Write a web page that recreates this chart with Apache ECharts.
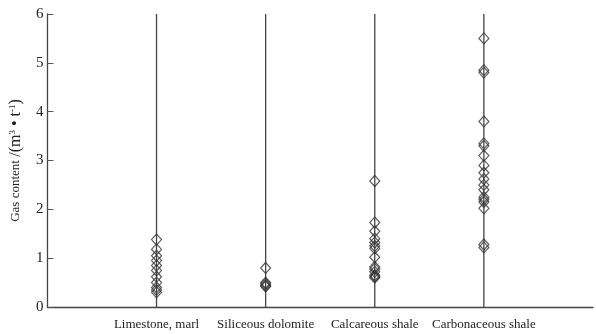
<!DOCTYPE html>
<html><head><meta charset="utf-8">
<script src="https://cdn.jsdelivr.net/npm/echarts@6/dist/echarts.min.js"></script>
<style>html,body{margin:0;padding:0;background:#fff}#c{width:596px;height:334px}</style>
</head><body><div id="c"></div>
<script>
const categories = ['Limestone, marl', 'Siliceous dolomite', 'Calcareous shale', 'Carbonaceous shale'];
const limestone = [1.38, 1.18, 1.05, 0.95, 0.85, 0.75, 0.62, 0.5, 0.4, 0.35, 0.3];
const dolomite = [0.8, 0.5, 0.47, 0.44, 0.42];
const calcShale = [2.58, 1.73, 1.55, 1.4, 1.32, 1.25, 1.2, 1.02, 0.82, 0.78, 0.72, 0.65, 0.62, 0.6];
const carbShale = [5.5, 4.85, 4.8, 3.8, 3.35, 3.3, 3.1, 2.9, 2.75, 2.62, 2.5, 2.4, 2.25, 2.2, 2.15, 2.02, 1.28, 1.22];
const yTicks = [0, 1, 2, 3, 4, 5, 6];
const groups = [limestone, dolomite, calcShale, carbShale];

const yMin = yTicks[0], yMax = yTicks[yTicks.length - 1];
const font = '"Liberation Serif", "Times New Roman", serif';
const series = [];
groups.forEach((g, i) => {
  series.push({
    type: 'line', data: [[i + 1, yMin], [i + 1, yMax]], symbol: 'none',
    lineStyle: { color: '#444', width: 1.3 }, silent: true, z: 1
  });
});
groups.forEach((g, i) => {
  series.push({
    type: 'scatter', data: g.map(v => [i + 1, v]), symbol: 'diamond', symbolSize: [10, 11],
    itemStyle: { color: 'rgba(255,255,255,0)', borderColor: '#333', borderWidth: 1.2 }, z: 3
  });
});
const chart = echarts.init(document.getElementById('c'));
chart.setOption({
  animation: false,
  backgroundColor: '#fff',
  grid: { left: 46, right: -2, top: 14, bottom: 27, containLabel: false },
  xAxis: {
    type: 'value', min: 0, max: categories.length + 1, interval: 1,
    axisLine: { lineStyle: { color: '#444', width: 1.3 } },
    axisTick: { show: false }, splitLine: { show: false },
    axisLabel: {
      margin: 11, color: '#222', fontFamily: font, fontSize: 13,
      formatter: v => (v >= 1 && v <= categories.length) ? categories[v - 1] : ''
    }
  },
  yAxis: {
    type: 'value', min: yMin, max: yMax, interval: 1,
    name: '{a|Gas content }{b|/(m}{sup|3}{b| • t}{sup|-1}{b|)}',
    nameLocation: 'middle', nameRotate: 90, nameGap: 15,
    nameTextStyle: {
      color: '#222', fontFamily: font, fontSize: 13,
      rich: {
        a: { fontSize: 13, fontFamily: font, color: '#222' },
        b: { fontSize: 16, fontFamily: font, color: '#222' },
        sup: { fontSize: 9, verticalAlign: 'top', fontFamily: font, color: '#222', lineHeight: 9, padding: [0, 0, 8, 0] }
      }
    },
    axisLine: { show: true, lineStyle: { color: '#444', width: 1.3 } },
    axisTick: { show: true, inside: true, length: 6, lineStyle: { color: '#555' } },
    splitLine: { show: false },
    axisLabel: { margin: 4, color: '#222', fontFamily: font, fontSize: 15 }
  },
  series: series
});
</script></body></html>
